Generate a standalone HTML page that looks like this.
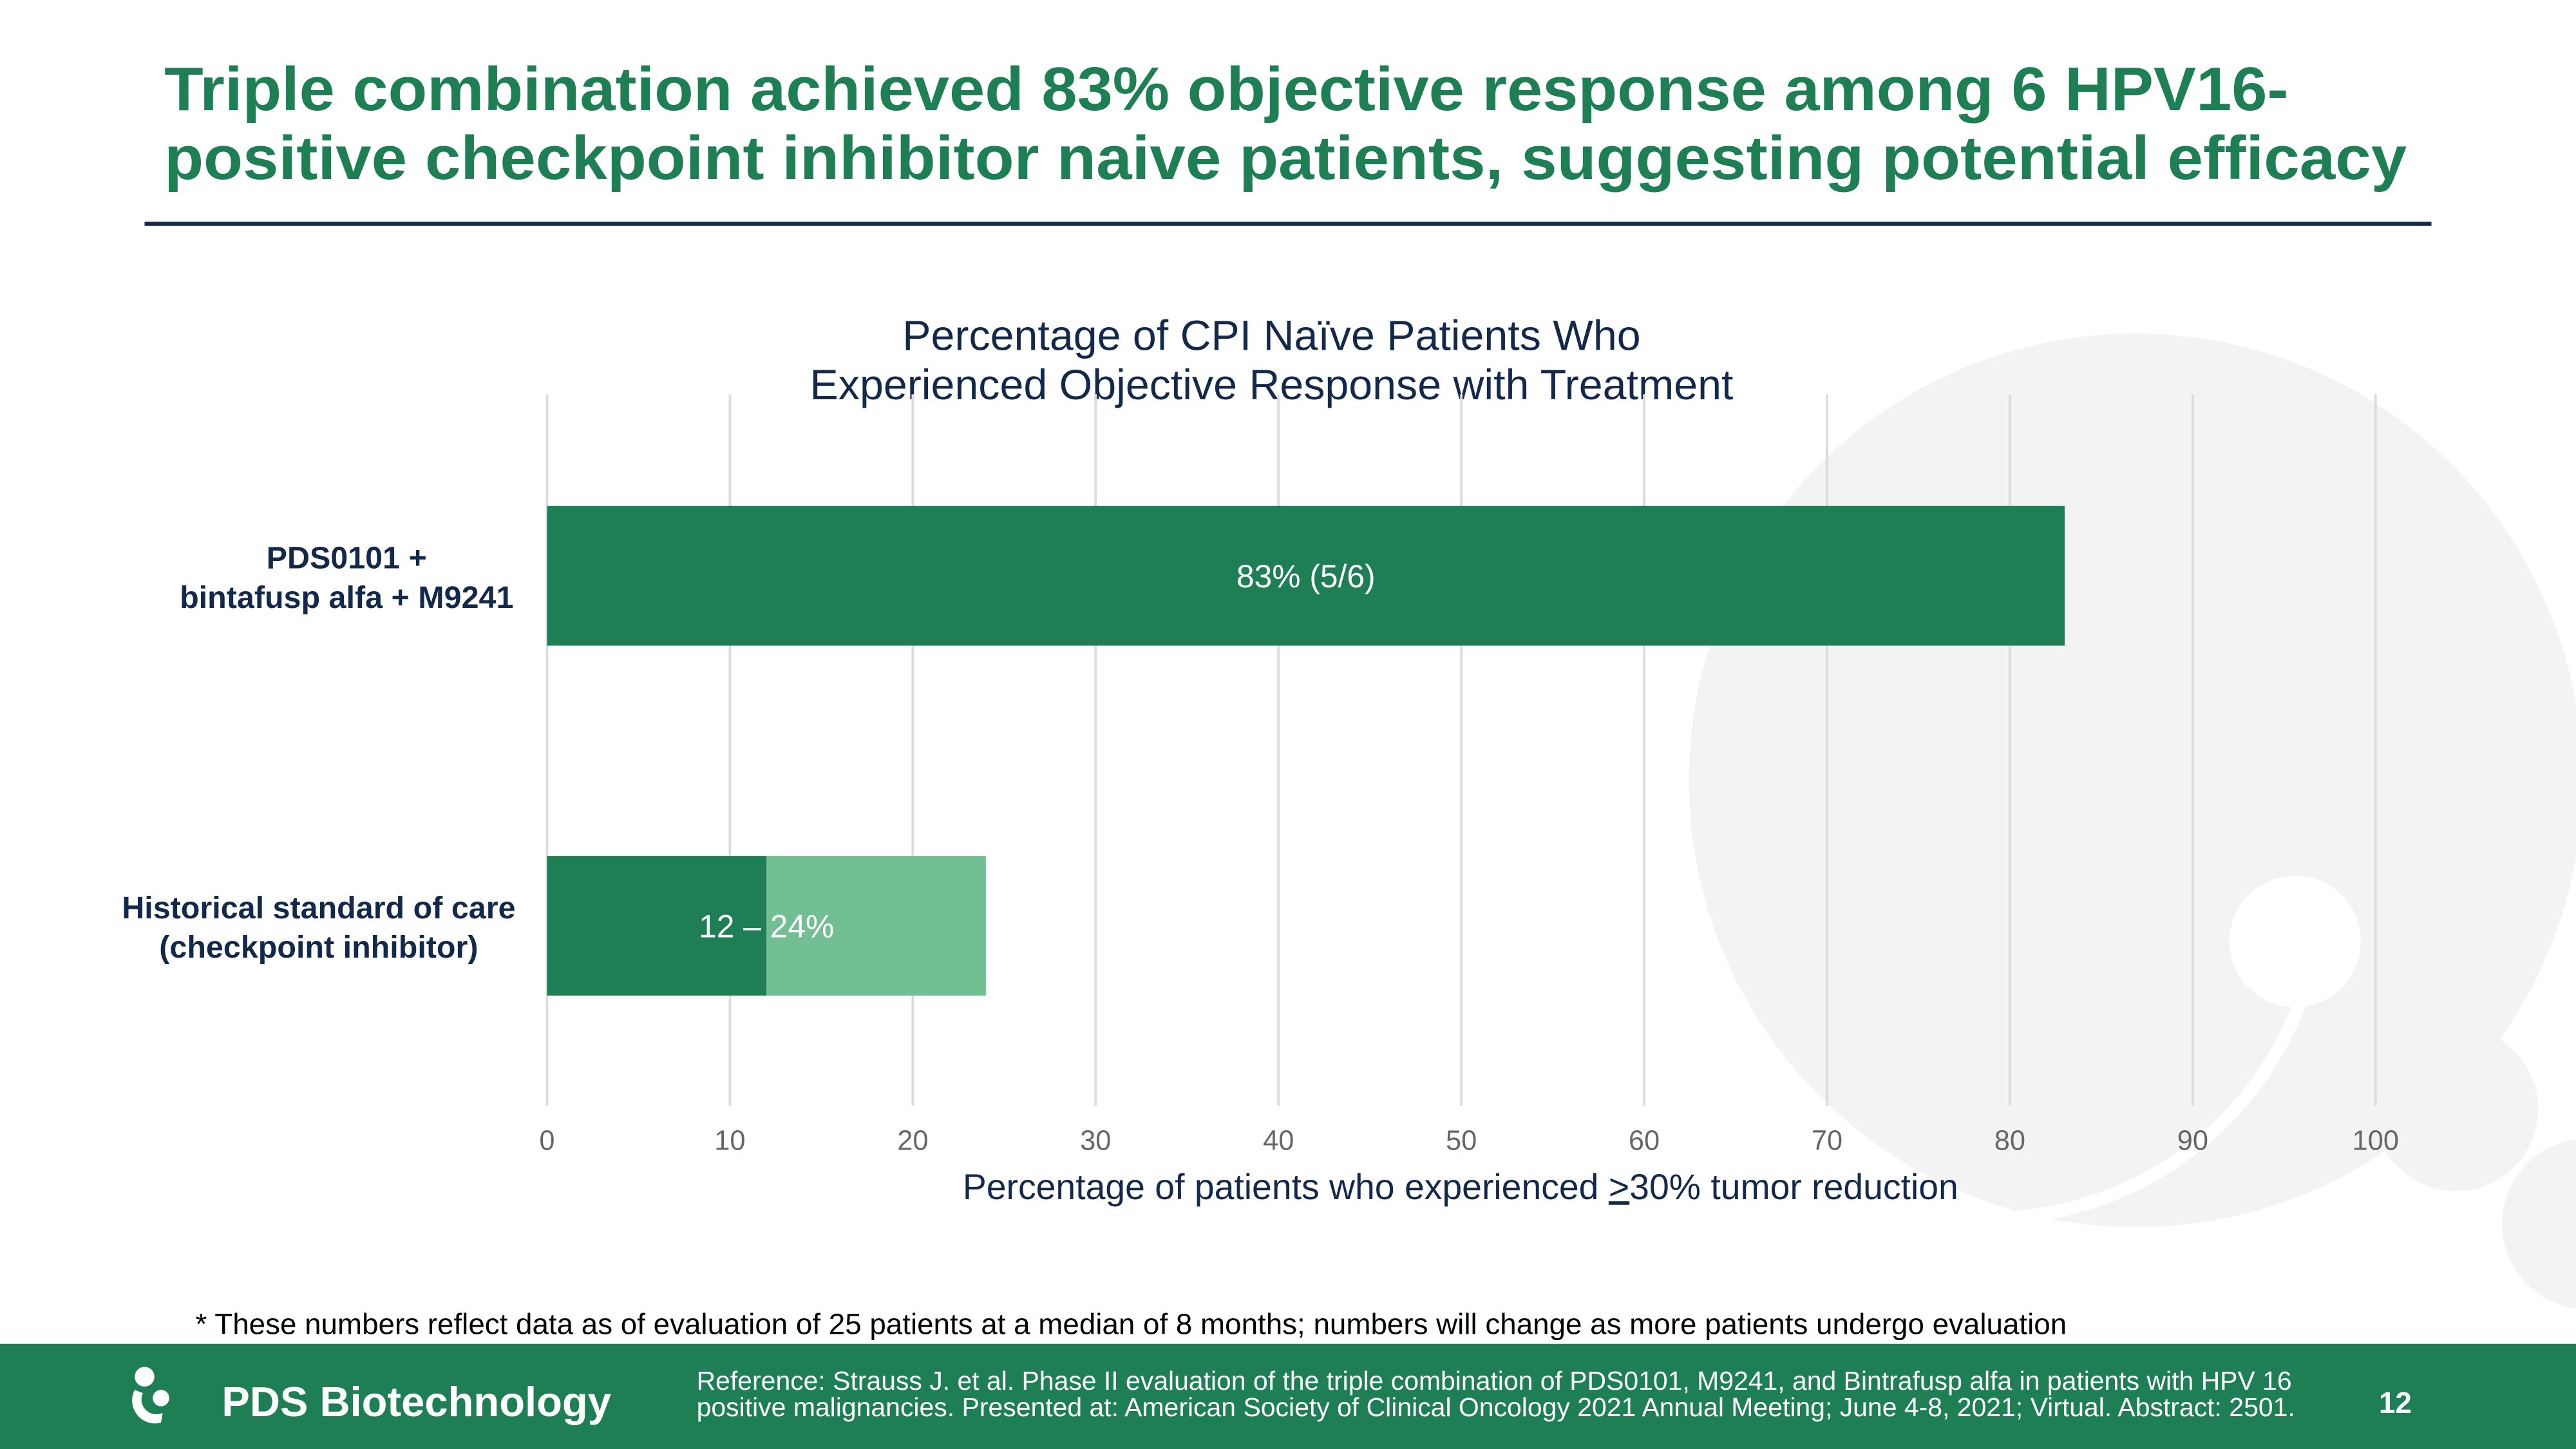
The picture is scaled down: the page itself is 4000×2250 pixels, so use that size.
<!DOCTYPE html>
<html><head><meta charset="utf-8"><style>html,body{margin:0;padding:0;background:#fff}svg{display:block}</style></head>
<body>
<svg width="4000" height="2250" viewBox="0 0 1568 882" xmlns="http://www.w3.org/2000/svg" font-family="Liberation Sans, sans-serif">
  <g>
    <circle cx="1300" cy="475" r="272" fill="#f3f3f3"/>
    <path d="M1022,470 A200,200 0 0 0 1400,610" fill="none" stroke="#fff" stroke-width="8"/>
    <circle cx="1397" cy="573" r="40" fill="#fff"/>
    <circle cx="1575" cy="745" r="52" fill="#f3f3f3"/>
    <circle cx="1495" cy="675" r="50" fill="#f3f3f3"/>
  </g>
  <g font-weight="bold" font-size="37.5" fill="#1e7f55">
    <text x="100" y="67" textLength="1293" lengthAdjust="spacingAndGlyphs">Triple combination achieved 83% objective response among 6 HPV16-</text>
    <text x="100" y="109" textLength="1365" lengthAdjust="spacingAndGlyphs">positive checkpoint inhibitor naive patients, suggesting potential efficacy</text>
  </g>
  <rect x="88" y="135" width="1392" height="2.5" fill="#13294b"/>
  <g font-size="26" fill="#13294b" text-anchor="middle">
    <text x="774" y="213">Percentage of CPI Naïve Patients Who</text>
    <text x="774" y="243">Experienced Objective Response with Treatment</text>
  </g>
  <g id="grid"></g>
  <g id="bars"></g>
  <g id="ticks" font-size="17" fill="#666" text-anchor="middle"></g>
  <g font-weight="bold" font-size="19" fill="#13294b" text-anchor="middle">
    <text x="211" y="346">PDS0101 +</text>
    <text x="211" y="370">bintafusp alfa + M9241</text>
    <text x="194" y="559">Historical standard of care</text>
    <text x="194" y="583">(checkpoint inhibitor)</text>
  </g>
  <text x="889" y="730" font-size="21.7" fill="#13294b" text-anchor="middle">Percentage of patients who experienced <tspan text-decoration="underline">&gt;</tspan>30% tumor reduction</text>
  <text x="119" y="812" font-size="17.9" fill="#000" textLength="1139" lengthAdjust="spacingAndGlyphs">* These numbers reflect data as of evaluation of 25 patients at a median of 8 months; numbers will change as more patients undergo evaluation</text>
  <rect x="0" y="818" width="1568" height="64" fill="#1e7f55"/>
  <g fill="#fff">
    <circle cx="88" cy="838" r="6"/>
    <path d="M82,846 A14,14 0 0 0 98,866 L99,860 A9,9 0 0 1 87,848 Z"/>
    <circle cx="98" cy="851" r="5"/>
    <text x="135" y="862" font-size="25.6" font-weight="bold" textLength="237" lengthAdjust="spacingAndGlyphs">PDS Biotechnology</text>
  </g>
  <g font-size="16" fill="#fff">
    <text x="424" y="846" textLength="971" lengthAdjust="spacingAndGlyphs">Reference: Strauss J. et al. Phase II evaluation of the triple combination of PDS0101, M9241, and Bintrafusp alfa in patients with HPV 16</text>
    <text x="424" y="862" textLength="973" lengthAdjust="spacingAndGlyphs">positive malignancies. Presented at: American Society of Clinical Oncology 2021 Annual Meeting; June 4-8, 2021; Virtual. Abstract: 2501.</text>
  </g>
  <text x="1448" y="860" font-size="18" font-weight="bold" fill="#fff">12</text>
</svg>
<script>
const categories = ["PDS0101 + bintafusp alfa + M9241", "Historical standard of care"];
const lowValues = [83, 12];
const highValues = [83, 24];
const valueLabels = ["83% (5/6)", "12 – 24%"];
const tickValues = [0,10,20,30,40,50,60,70,80,90,100];

const NS = "http://www.w3.org/2000/svg";
const x0 = 333, x1 = 1446;
function xs(v){ return x0 + (x1 - x0) * v / 100; }
const bandTops = [308, 521], barH = 85;
function yb(i){ return bandTops[i]; }

const grid = document.getElementById('grid');
const ticks = document.getElementById('ticks');
tickValues.forEach(v => {
  const l = document.createElementNS(NS,'line');
  l.setAttribute('x1', xs(v)); l.setAttribute('x2', xs(v));
  l.setAttribute('y1', 240); l.setAttribute('y2', 673);
  l.setAttribute('stroke', '#dcdcdc'); l.setAttribute('stroke-width', '1.5');
  
  
  grid.appendChild(l);
  const t = document.createElementNS(NS,'text');
  t.setAttribute('x', xs(v)); t.setAttribute('y', 700);
  t.textContent = v;
  
  
  ticks.appendChild(t);
});

const bars = document.getElementById('bars');
categories.forEach((c, i) => {
  if (highValues[i] > lowValues[i]) {
    const r2 = document.createElementNS(NS,'rect');
    r2.setAttribute('x', xs(lowValues[i])); r2.setAttribute('y', yb(i));
    r2.setAttribute('width', xs(highValues[i]) - xs(lowValues[i])); r2.setAttribute('height', barH);
    r2.setAttribute('fill', '#72bf93');
    
    
    bars.appendChild(r2);
  }
  const r = document.createElementNS(NS,'rect');
  r.setAttribute('x', xs(0)); r.setAttribute('y', yb(i));
  r.setAttribute('width', xs(lowValues[i]) - xs(0)); r.setAttribute('height', barH);
  r.setAttribute('fill', '#1e7f55');
  
  
  bars.appendChild(r);
  const t = document.createElementNS(NS,'text');
  t.setAttribute('x', (xs(0) + xs(highValues[i])) / 2); t.setAttribute('y', yb(i) + barH/2 + 7);
  t.setAttribute('text-anchor', 'middle'); t.setAttribute('fill', '#fff'); t.setAttribute('font-size', '19.5');
  t.textContent = valueLabels[i];
  
  
  bars.appendChild(t);
});
</script>
</body></html>
